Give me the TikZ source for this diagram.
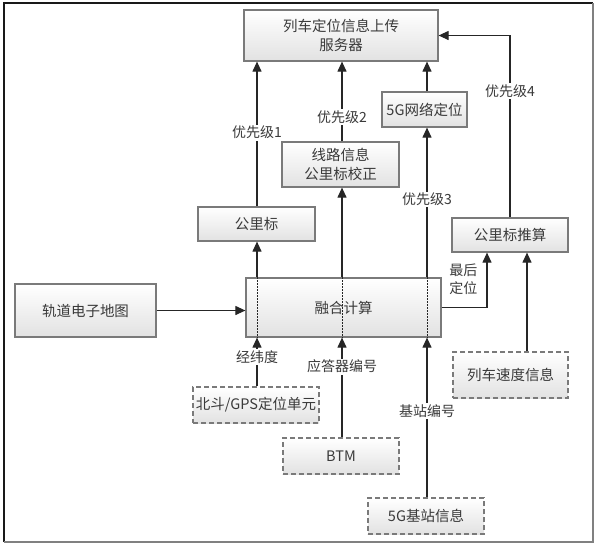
\documentclass[tikz,border=0pt]{standalone}
\usepackage{fontspec}
\setmainfont{Noto Sans CJK SC}
\usetikzlibrary{arrows.meta}
\definecolor{boxline}{HTML}{7A7A7A}
\definecolor{boxbot}{HTML}{E2E2E2}
\definecolor{txt}{HTML}{3A3A3A}
\definecolor{ln}{HTML}{262626}
\tikzset{
  box/.style={draw=boxline, line width=1.2pt, top color=white, bottom color=boxbot,
    text=txt, align=center, inner sep=0pt, font=\fontsize{14.5}{19}\selectfont},
  dbox/.style={box, dash pattern=on 5pt off 3pt},
  arr/.style={draw=ln, line width=1.1pt, -{Triangle[length=10pt,width=9pt]}},
  lab/.style={fill=white, text=txt, inner sep=1.5pt, align=center, font=\fontsize{14}{18}\selectfont},
  dotl/.style={draw=ln, line width=0.9pt, dash pattern=on 1.5pt off 1.5pt}
}
\begin{document}
\begin{tikzpicture}[x=1pt,y=-1pt]
\useasboundingbox (0,0) rectangle (598,547);
% frame
\draw[line width=1.5pt, black!90] (4,542) -- (4,3) -- (593,3);
\draw[line width=1.5pt, gray] (4,542) -- (593,542) -- (593,3);
% column coordinates
\coordinate (c1) at (257,0);
\coordinate (c2) at (342,0);
\coordinate (c3) at (427,0);
\coordinate (c5) at (487,0);
\coordinate (c6) at (527,0);
% nodes
\node[box, minimum width=194, minimum height=51] (server) at (341,35.5) {列车定位信息上传\\服务器};
\node[box, minimum width=117, minimum height=34] (gl) at (256.5,224) {公里标};
\node[box, minimum width=117, minimum height=45] (xl) at (340.5,164.5) {线路信息\\公里标校正};
\node[box, minimum width=85, minimum height=35] (wl) at (424.5,109.5) {5G网络定位};
\node[box, minimum width=116, minimum height=34] (ts) at (510,235) {公里标推算};
\node[box, minimum width=141, minimum height=53] (map) at (85.5,310.5) {轨道电子地图};
\node[box, minimum width=195, minimum height=59] (fuse) at (343.5,307.5) {融合计算};
\node[dbox, minimum width=126, minimum height=36] (bd) at (256,405) {北斗/GPS定位单元};
\node[dbox, minimum width=116, minimum height=36] (btm) at (341,456) {BTM};
\node[dbox, minimum width=116, minimum height=36] (jz) at (426,516) {5G基站信息};
\node[dbox, minimum width=115, minimum height=46] (sp) at (510.5,375) {列车速度信息};
% dotted lines through fusion box
\draw[dotl] (fuse.north -| c1) -- (fuse.south -| c1);
\draw[dotl] (fuse.north -| c2) -- (fuse.south -| c2);
\draw[dotl] (fuse.north -| c3) -- (fuse.south -| c3);
% upper connectors
\draw[arr] (fuse.north -| c1) -- (gl.south -| c1);
\draw[arr] (gl.north -| c1) -- node[lab, pos=0.51]{优先级1} (server.south -| c1);
\draw[arr] (fuse.north -| c2) -- (xl.south -| c2);
\draw[arr] (xl.north -| c2) -- node[lab, pos=0.3]{优先级2} (server.south -| c2);
\draw[arr] (fuse.north -| c3) -- node[lab, pos=0.52]{优先级3} (wl.south -| c3);
\draw[arr] (wl.north -| c3) -- (server.south -| c3);
\draw[arr] (fuse.east) -| node[pos=0.76, left, text=txt, align=center, inner sep=0pt, xshift=-9pt, font=\fontsize{14}{18}\selectfont]{最后\\定位} (ts.south -| c5);
\draw[arr] (ts.north) |- node[lab, pos=0.348]{优先级4} (server.east);
\draw[arr] (sp.north -| c6) -- (ts.south -| c6);
% lower connectors
\draw[arr] (map.east) -- (map.east -| fuse.west);
\draw[arr] (bd.north -| c1) -- node[lab, pos=0.6]{经纬度} (fuse.south -| c1);
\draw[arr] (btm.north -| c2) -- node[lab, pos=0.71]{应答器编号} (fuse.south -| c2);
\draw[arr] (jz.north -| c3) -- node[lab, pos=0.54]{基站编号} (fuse.south -| c3);
\end{tikzpicture}
\end{document}
